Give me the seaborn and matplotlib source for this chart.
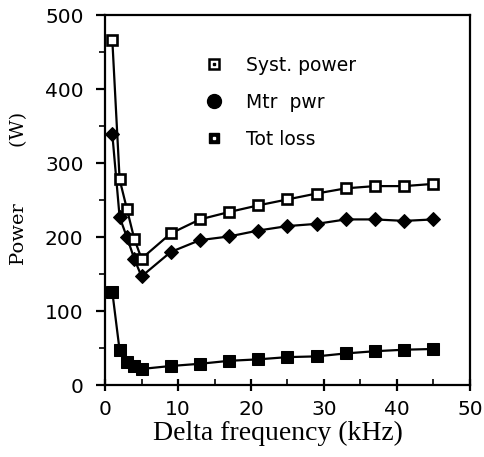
import matplotlib
matplotlib.use("Agg")
import matplotlib.pyplot as plt
from matplotlib.lines import Line2D
from matplotlib.ticker import MultipleLocator
import seaborn as sns
import pandas as pd

# Delta frequency (kHz) sample points
freq_khz = [1, 2, 3, 4, 5, 9, 13, 17, 21, 25, 29, 33, 37, 41, 45]
# Power readings (W)
syst_power = [466, 278, 238, 198, 171, 205, 224, 234, 243, 251, 259, 266, 269, 269, 272]
mtr_pwr = [339, 227, 200, 171, 147, 180, 196, 201, 209, 215, 218, 224, 224, 222, 224]
tot_loss = [126, 47, 31, 26, 22, 26, 29, 33, 35, 38, 39, 43, 46, 48, 49]
series_names = ["Syst. power", "Mtr  pwr", "Tot loss"]

df = pd.DataFrame({
    "freq": freq_khz * 3,
    "power": syst_power + mtr_pwr + tot_loss,
    "series": [series_names[0]] * len(freq_khz)
    + [series_names[1]] * len(freq_khz)
    + [series_names[2]] * len(freq_khz),
})

sns.set_theme(style="ticks")
plt.rcParams["font.family"] = ["DejaVu Sans"]

fig = plt.figure(figsize=(4.84, 4.57), dpi=100)
ax = fig.add_axes([0.217, 0.157, 0.754, 0.810])

sns.lineplot(
    data=df, x="freq", y="power", hue="series", style="series",
    palette=["black"] * 3, markers=["s", "D", "s"], dashes=False,
    linewidth=1.6, ax=ax, legend=False,
)

# marker appearance per series
lines = ax.get_lines()
lines[0].set_markerfacecolor("white")
lines[0].set_markeredgecolor("black")
lines[0].set_markersize(7.5)
lines[0].set_markeredgewidth(1.9)
lines[1].set_markerfacecolor("black")
lines[1].set_markeredgecolor("black")
lines[1].set_markersize(7)
lines[2].set_markerfacecolor("black")
lines[2].set_markeredgecolor("black")
lines[2].set_markersize(8)
# open squares sit above the filled diamonds
lines[0].set_zorder(4)

ax.set_xlim(0, 50)
ax.set_ylim(0, 500)
ax.xaxis.set_major_locator(MultipleLocator(10))
ax.xaxis.set_minor_locator(MultipleLocator(5))
ax.yaxis.set_major_locator(MultipleLocator(100))
ax.yaxis.set_minor_locator(MultipleLocator(50))

for side in ["left", "right", "top", "bottom"]:
    ax.spines[side].set_visible(True)
    ax.spines[side].set_linewidth(1.6)
    ax.spines[side].set_color("black")

ax.tick_params(axis="both", which="major", labelsize=14.5, colors="black")
ax.tick_params(axis="y", which="major", direction="out", length=6.5, width=1.6, pad=9)
ax.tick_params(axis="y", which="minor", direction="out", length=4, width=1.4)
ax.tick_params(axis="x", which="major", direction="inout", length=9, width=1.6, pad=6)
ax.tick_params(axis="x", which="minor", direction="in", length=4, width=1.4)

ax.set_xlabel("Delta frequency (kHz)", family="Liberation Serif", fontsize=20,
              color="black")
ax.xaxis.set_label_coords(0.474, -0.097)
ax.set_ylabel("Power         (W)", family="DejaVu Serif", fontsize=14,
              color="black")
ax.yaxis.set_label_coords(-0.212, 0.531)

# legend with custom symbols
sq_open = Line2D([], [], linestyle="none", marker="s", markersize=6.5,
                 markerfacecolor="white", markeredgecolor="black", markeredgewidth=1.8)
dot_black = Line2D([], [], linestyle="none", marker="s", markersize=2,
                   markerfacecolor="black", markeredgecolor="black")
circ = Line2D([], [], linestyle="none", marker="o", markersize=10,
              markerfacecolor="black", markeredgecolor="black")
sq_fill = Line2D([], [], linestyle="none", marker="s", markersize=7,
                 markerfacecolor="black", markeredgecolor="black")
dot_white = Line2D([], [], linestyle="none", marker="s", markersize=1.5,
                   markerfacecolor="white", markeredgecolor="white")
handles = [(sq_open, dot_black), circ, (sq_fill, dot_white)]
leg = ax.legend(handles, series_names, loc="upper left", bbox_to_anchor=(0.247, 0.915),
                frameon=False, fontsize=13.5, handletextpad=1.2, labelspacing=0.95,
                handlelength=1.0, borderpad=0)
for t in leg.get_texts():
    t.set_color("black")

fig.savefig("out.png", dpi=100, facecolor="white")
